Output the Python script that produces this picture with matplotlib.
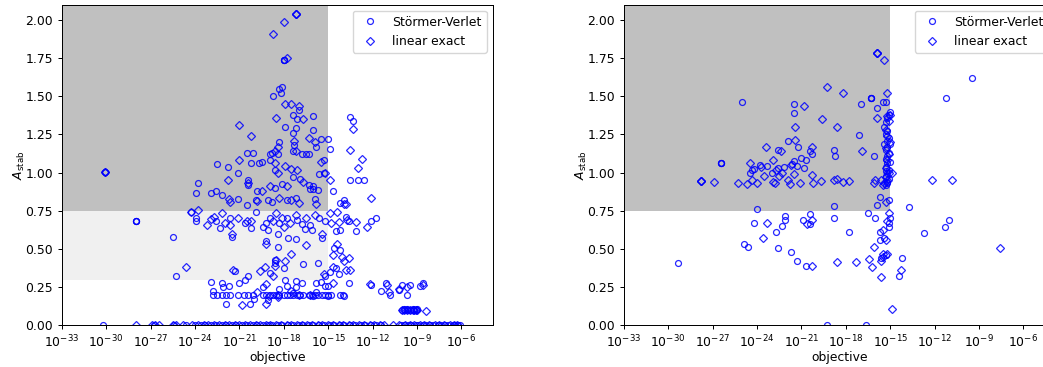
import numpy as np
import matplotlib.pyplot as plt
from matplotlib.ticker import NullLocator

# (log10 objective, A_stab) for each run

# --- left panel ---
left_sv = [
    (-30.1, 1.005), (-30.1, 1.005), (-28.0, 0.685), (-28.0, 0.685), (-28.0, 0.685),
    (-18.0, 1.74), (-18.0, 1.74), (-18.0, 1.74),
    (-18.7, 1.50), (-18.3, 1.55), (-18.1, 1.56), (-18.2, 1.52), (-17.0, 1.41), (-17.4, 1.38),
    (-17.1, 1.35), (-16.0, 1.37), (-17.9, 1.30), (-17.2, 1.29), (-16.0, 1.28), (-17.4, 1.26),
    (-15.5, 1.22), (-15.0, 1.22), (-18.3, 1.20), (-17.3, 1.18), (-17.4, 1.14), (-16.8, 1.125),
    (-16.5, 1.125), (-16.3, 1.125), (-15.8, 1.17), (-14.9, 1.155), (-18.8, 1.13), (-18.9, 1.12),
    (-18.4, 1.12), (-20.5, 1.13), (-20.1, 1.13), (-20.2, 1.065), (-19.7, 1.06), (-19.5, 1.07),
    (-18.9, 1.08), (-15.3, 1.085), (-22.5, 1.055), (-21.8, 1.04), (-21.1, 1.00), (-18.6, 1.015),
    (-15.6, 0.99), (-15.3, 0.995), (-17.4, 0.97), (-23.8, 0.93), (-20.4, 0.95), (-20.4, 0.92),
    (-18.1, 0.925), (-16.9, 0.96), (-16.3, 0.92), (-16.0, 0.915), (-16.0, 0.89), (-16.2, 0.89),
    (-15.7, 0.885), (-19.8, 0.88), (-18.6, 0.90), (-14.7, 0.88), (-23.9, 0.865), (-22.9, 0.865),
    (-22.6, 0.88), (-22.2, 0.855), (-21.1, 0.825), (-20.5, 0.79), (-19.9, 0.82), (-19.1, 0.82),
    (-18.8, 0.81), (-17.8, 0.82), (-17.2, 0.835), (-15.9, 0.83), (-14.2, 0.80), (-13.9, 0.82),
    (-13.5, 0.95), (-13.0, 0.955), (-12.6, 0.955), (-13.5, 1.365), (-13.3, 1.335),
    (-24.3, 0.74), (-23.9, 0.705), (-23.9, 0.685), (-22.6, 0.68), (-22.3, 0.635), (-21.6, 0.70),
    (-21.5, 0.58), (-20.6, 0.67), (-20.2, 0.635), (-19.9, 0.74), (-19.4, 0.645), (-19.2, 0.67),
    (-19.1, 0.625), (-18.9, 0.70), (-18.4, 0.60), (-18.3, 0.67), (-17.8, 0.70), (-17.7, 0.575),
    (-17.2, 0.565), (-17.1, 0.69), (-16.8, 0.665), (-16.6, 0.63), (-16.2, 0.655), (-16.1, 0.625),
    (-15.6, 0.70), (-15.4, 0.575), (-15.2, 0.68), (-14.5, 0.62), (-14.2, 0.625), (-13.8, 0.71),
    (-13.6, 0.68), (-13.1, 0.62), (-12.1, 0.685), (-11.8, 0.705), (-25.5, 0.58),
    (-19.2, 0.55), (-18.4, 0.51), (-18.6, 0.405), (-18.6, 0.425), (-18.0, 0.375), (-16.7, 0.40),
    (-15.7, 0.41), (-18.9, 0.34), (-21.3, 0.355), (-25.3, 0.325), (-14.6, 0.505), (-14.2, 0.495),
    (-14.5, 0.375), (-14.3, 0.335), (-15.2, 0.32), (-14.9, 0.35), (-13.6, 0.275), (-15.0, 0.255),
    (-15.5, 0.285), (-15.8, 0.275), (-17.9, 0.295), (-17.2, 0.29), (-16.8, 0.28),
    (-22.8, 0.20), (-22.5, 0.20), (-22.2, 0.20), (-21.9, 0.20), (-21.6, 0.20), (-21.1, 0.20),
    (-20.7, 0.20), (-20.4, 0.20), (-20.1, 0.20), (-19.4, 0.20), (-19.2, 0.20), (-18.9, 0.20),
    (-18.7, 0.20), (-18.5, 0.20), (-18.3, 0.20), (-18.0, 0.20), (-17.8, 0.20), (-17.6, 0.20),
    (-17.4, 0.20), (-17.1, 0.20), (-16.9, 0.20), (-16.7, 0.20), (-16.3, 0.20), (-16.1, 0.20),
    (-15.9, 0.20), (-15.7, 0.20), (-15.4, 0.20), (-15.2, 0.20), (-15.0, 0.20), (-14.8, 0.20),
    (-14.2, 0.20), (-14.0, 0.20),
    (-22.9, 0.285), (-22.8, 0.225), (-22.2, 0.275), (-22.1, 0.25), (-21.7, 0.26), (-21.9, 0.14),
    (-20.3, 0.14), (-20.6, 0.295), (-20.4, 0.32), (-21.0, 0.275), (-20.0, 0.17), (-19.4, 0.25),
    (-19.1, 0.165), (-18.3, 0.24), (-17.8, 0.26), (-17.4, 0.21), (-17.2, 0.25), (-16.0, 0.19),
    (-15.8, 0.215), (-15.2, 0.255), (-15.0, 0.19), (-13.9, 0.19), (-12.1, 0.265), (-11.4, 0.225),
    (-11.1, 0.275), (-10.8, 0.20), (-10.2, 0.23), (-10.0, 0.265), (-9.5, 0.265), (-9.7, 0.20),
    (-8.8, 0.255), (-8.6, 0.28),
    (-10.0, 0.10), (-9.9, 0.105), (-9.8, 0.10), (-9.7, 0.105), (-9.6, 0.10), (-9.4, 0.10),
    (-9.3, 0.105), (-9.2, 0.10), (-9.1, 0.10), (-9.0, 0.105),
]
left_sv_zero = [
    -30.2, -26.8, -25.4, -24.6, -24.0, -23.6, -23.3, -22.9, -22.6, -22.2, -21.9, -21.5, -21.2,
    -20.8, -20.5, -20.1, -19.8, -19.4, -19.1, -18.8, -18.4, -18.1, -17.7, -17.4, -17.0, -16.7,
    -16.3, -16.0, -15.6, -15.3, -14.9, -14.6, -14.2, -13.9, -13.5, -13.2, -12.8, -12.5, -12.1,
    -11.8, -11.4, -10.1, -9.9, -9.6, -9.4, -9.1, -8.9, -8.6, -8.4, -8.1, -7.9, -7.6, -7.4,
    -7.1, -6.9, -6.6, -6.4, -6.2, -6.1,
]
left_le = [
    (-30.1, 1.005), (-30.1, 1.005), (-17.2, 2.04), (-17.2, 2.04), (-17.2, 2.04),
    (-18.7, 1.91), (-18.0, 1.985), (-17.8, 1.75), (-17.9, 1.45), (-17.5, 1.45), (-17.0, 1.435),
    (-16.7, 1.35), (-18.5, 1.355), (-21.0, 1.31), (-20.2, 1.24), (-17.3, 1.21), (-16.3, 1.23),
    (-15.9, 1.20), (-17.2, 1.14), (-18.4, 1.17), (-18.6, 1.14), (-21.0, 1.08), (-18.6, 1.06),
    (-17.9, 1.045), (-15.5, 1.07), (-18.4, 1.00), (-17.5, 1.025), (-17.1, 1.02), (-15.2, 1.00),
    (-14.9, 0.95), (-21.8, 0.95), (-20.4, 0.935), (-17.8, 0.91), (-16.7, 0.94), (-19.5, 0.88),
    (-18.9, 0.91), (-21.7, 0.83), (-21.6, 0.81), (-19.8, 0.815), (-18.3, 0.835), (-17.5, 0.82),
    (-17.0, 0.80), (-15.8, 0.795), (-13.8, 0.795), (-12.1, 0.835), (-13.5, 1.15), (-12.7, 1.09),
    (-13.0, 1.03), (-13.3, 1.285),
    (-24.3, 0.74), (-23.8, 0.755), (-23.2, 0.66), (-22.9, 0.695), (-22.7, 0.71), (-22.2, 0.735),
    (-22.0, 0.67), (-21.6, 0.655), (-21.5, 0.60), (-21.1, 0.70), (-20.5, 0.68), (-20.2, 0.685),
    (-18.7, 0.68), (-18.5, 0.735), (-18.1, 0.70), (-18.0, 0.645), (-17.6, 0.67), (-17.2, 0.725),
    (-16.5, 0.70), (-15.9, 0.725), (-15.4, 0.60), (-14.9, 0.735), (-14.8, 0.67), (-14.4, 0.745),
    (-14.3, 0.675), (-13.9, 0.795), (-13.7, 0.69), (-13.1, 0.675), (-12.4, 0.645),
    (-19.2, 0.535), (-16.5, 0.525), (-17.5, 0.465), (-17.9, 0.42), (-18.5, 0.43), (-18.6, 0.39),
    (-18.7, 0.32), (-19.6, 0.355), (-19.3, 0.38), (-21.4, 0.36), (-24.6, 0.385), (-14.4, 0.535),
    (-14.7, 0.46), (-14.1, 0.45), (-13.6, 0.44), (-13.9, 0.42), (-14.7, 0.385), (-13.8, 0.36),
    (-13.5, 0.36), (-15.3, 0.335), (-14.7, 0.275),
    (-20.8, 0.13), (-19.8, 0.22), (-19.2, 0.27), (-19.2, 0.14), (-19.0, 0.195), (-18.4, 0.185),
    (-17.5, 0.225), (-17.0, 0.20), (-16.2, 0.20), (-18.4, 0.20), (-12.2, 0.27), (-11.0, 0.265),
    (-10.9, 0.215), (-10.2, 0.235), (-9.7, 0.25), (-8.6, 0.265),
    (-10.0, 0.10), (-9.9, 0.10), (-9.7, 0.10), (-9.5, 0.10), (-9.3, 0.10), (-9.2, 0.10),
    (-9.1, 0.10), (-9.0, 0.10), (-8.4, 0.095),
]
left_le_zero = [
    -28.0, -26.9, -26.7, -26.4, -25.5, -25.3, -24.8, -24.2, -23.8, -23.4, -23.1, -22.7, -22.4,
    -22.0, -21.7, -21.3, -21.0, -20.6, -20.3, -19.9, -19.6, -19.2, -18.9, -18.5, -18.2, -17.8,
    -17.5, -17.1, -16.8, -16.4, -16.1, -15.7, -15.4, -15.0, -14.7, -14.3, -14.0, -13.6, -13.3,
    -12.9, -12.6, -12.2, -11.9, -11.5, -11.2, -10.6, -10.2, -9.8, -9.5, -9.2, -8.8, -8.5,
    -8.2, -7.8, -7.5, -7.2, -6.8, -6.5, -6.3,
]

# --- right panel ---
right_sv = [
    (-26.4, 1.06), (-26.4, 1.06), (-26.4, 1.06), (-25.0, 1.464), (-24.5, 0.995), (-24.3, 1.02),
    (-24.2, 1.025), (-23.8, 1.05), (-23.3, 1.045), (-23.0, 1.00), (-22.6, 1.03), (-22.6, 1.145),
    (-22.2, 1.04), (-21.9, 1.21), (-21.6, 1.055), (-21.5, 1.075), (-21.5, 1.45), (-21.5, 1.39),
    (-21.3, 1.045), (-21.2, 1.165), (-21.0, 1.095), (-20.8, 1.03), (-20.7, 1.085), (-20.4, 1.14),
    (-20.3, 1.12), (-18.8, 1.15), (-18.7, 1.11), (-17.1, 1.245), (-17.0, 1.45),
    (-16.3, 1.49), (-16.3, 1.49), (-16.3, 1.49), (-15.9, 1.425), (-16.1, 1.11), (-15.5, 1.46),
    (-15.3, 1.46), (-15.7, 0.84), (-15.9, 0.785), (-15.1, 0.82),
    (-15.3, 0.92), (-15.2, 0.94), (-15.1, 0.96), (-15.3, 0.98), (-15.2, 1.00), (-15.1, 1.02),
    (-15.3, 1.04), (-15.2, 1.06), (-15.0, 1.07), (-15.3, 1.09), (-15.2, 1.11), (-15.1, 1.13),
    (-15.3, 1.15), (-15.2, 1.17), (-15.0, 1.19), (-15.4, 1.19), (-15.2, 1.21), (-15.1, 1.23),
    (-15.3, 1.25), (-15.2, 1.27), (-15.4, 1.30), (-15.3, 1.33), (-15.2, 1.36), (-15.1, 1.38),
    (-15.0, 1.40), (-15.2, 0.93), (-15.3, 1.01),
    (-29.3, 0.405), (-24.9, 0.53), (-24.6, 0.51), (-24.2, 0.667), (-24.0, 0.765), (-22.7, 0.612),
    (-22.6, 0.505), (-22.3, 0.65), (-22.1, 0.718), (-22.1, 0.69), (-21.7, 0.48), (-21.3, 0.42),
    (-20.9, 0.693), (-20.7, 0.39), (-20.4, 0.726), (-20.4, 0.663), (-19.3, 0.0), (-18.8, 0.78),
    (-18.8, 0.705), (-17.8, 0.612), (-16.6, 0.0), (-16.5, 0.733), (-16.0, 0.705), (-15.7, 0.61),
    (-15.7, 0.56), (-15.6, 0.44), (-15.4, 0.57), (-15.3, 0.46), (-15.1, 0.645), (-15.0, 0.70),
    (-15.1, 0.667), (-14.4, 0.322), (-14.2, 0.443), (-13.7, 0.776), (-12.7, 0.602),
    (-11.3, 0.641), (-11.2, 1.492), (-11.0, 0.69), (-9.5, 1.623),
]
right_le = [
    (-27.8, 0.947), (-27.8, 0.947), (-27.8, 0.947), (-26.9, 0.94), (-25.3, 0.93), (-24.7, 0.925),
    (-24.5, 1.06), (-24.3, 0.95), (-24.0, 0.93), (-23.7, 1.035), (-23.4, 1.17), (-23.5, 0.98),
    (-22.9, 1.085), (-22.9, 0.94), (-22.8, 0.93), (-22.7, 1.015), (-22.5, 0.975), (-22.4, 1.14),
    (-22.3, 0.995), (-21.9, 0.95), (-21.8, 0.925), (-21.7, 1.05), (-21.5, 0.99), (-21.4, 1.30),
    (-21.4, 1.215), (-21.1, 0.935), (-20.8, 1.435), (-20.3, 1.17), (-20.3, 0.985), (-20.2, 0.93),
    (-19.7, 0.945), (-19.3, 1.56), (-19.6, 1.35), (-18.8, 0.955), (-18.6, 1.30), (-18.6, 0.96),
    (-18.2, 1.52), (-18.2, 0.94), (-17.8, 0.945), (-16.9, 1.14), (-15.9, 1.355), (-16.1, 0.93),
    (-16.0, 0.955), (-15.9, 1.785), (-15.9, 1.785), (-15.9, 1.785), (-15.4, 1.735), (-15.2, 1.52),
    (-14.9, 1.00), (-15.3, 0.81),
    (-15.4, 0.93), (-15.2, 0.95), (-15.3, 0.97), (-15.1, 1.00), (-15.3, 1.03), (-15.2, 1.08),
    (-15.1, 1.12), (-15.3, 1.16), (-15.0, 1.20), (-15.2, 1.24), (-15.3, 1.28), (-15.1, 1.34),
    (-15.2, 1.37), (-15.0, 1.38), (-15.6, 0.95), (-15.5, 0.92),
    (-23.6, 0.575), (-23.3, 0.672), (-20.6, 0.663), (-20.3, 0.39), (-20.3, 0.69), (-18.6, 0.415),
    (-17.3, 0.412), (-16.4, 0.432), (-16.2, 0.384), (-16.1, 0.51), (-15.6, 0.318), (-15.6, 0.42),
    (-15.5, 0.47), (-15.5, 0.45), (-15.3, 0.56), (-15.2, 0.47), (-15.5, 0.625), (-15.2, 0.68),
    (-15.1, 0.733), (-14.9, 0.11), (-14.3, 0.36), (-12.2, 0.955), (-10.8, 0.95), (-7.6, 0.504),
]

xticks = [1e-33, 1e-30, 1e-27, 1e-24, 1e-21, 1e-18, 1e-15, 1e-12, 1e-9, 1e-6]

# everything drawn a little smaller than the defaults
s = 0.89
plt.rcParams.update({
    'font.size': 10 * s,
    'axes.linewidth': 0.8 * s,
    'xtick.major.size': 3.5 * s, 'ytick.major.size': 3.5 * s,
    'xtick.major.width': 0.8 * s, 'ytick.major.width': 0.8 * s,
    'xtick.major.pad': 3.0 * s, 'ytick.major.pad': 3.5 * s,
    'legend.framealpha': 0.8,
})


def split(points):
    e, a = zip(*points)
    return 10.0 ** np.array(e), np.array(a)


def panel(ax, sv, le, sv_zero=(), le_zero=(), light_band=False):
    # regions of interest
    ax.fill_between([1e-33, 1e-15], 0.75, 2.1, color='silver', lw=0, zorder=0)
    if light_band:
        ax.fill_between([1e-33, 1e-15], 0.3, 0.75, color='#f0f0f0', lw=0, zorder=0)

    xs, ys = split(sv)
    xs = np.concatenate([xs, 10.0 ** np.array(sv_zero)])
    ys = np.concatenate([ys, np.zeros(len(sv_zero))])
    xl, yl = split(le)
    xl = np.concatenate([xl, 10.0 ** np.array(le_zero)])
    yl = np.concatenate([yl, np.zeros(len(le_zero))])

    ax.plot(xs, ys, 'o', mec='b', mfc='none', ms=6 * s * 0.8, mew=1.0 * s, alpha=0.85,
            label='Störmer-Verlet')
    ax.plot(xl, yl, 'D', mec='b', mfc='none', ms=6 * s * 0.8, mew=1.0 * s, alpha=0.85,
            label='linear exact')

    ax.set_xscale('log')
    ax.set_xlim(1e-33, 1.3e-4)
    ax.set_ylim(0, 2.1)
    ax.set_xticks(xticks)
    ax.xaxis.set_minor_locator(NullLocator())
    ax.set_yticks(np.arange(0, 2.01, 0.25))
    ax.set_xlabel('objective', labelpad=1.0)
    ax.set_ylabel(r'$A_\mathrm{stab}$', labelpad=-1.0)
    ax.legend(loc='upper right')


fig = plt.figure(figsize=(10.43, 3.67), dpi=100)
ax1 = fig.add_axes([0.0592, 0.1136, 0.4132, 0.8736])
ax2 = fig.add_axes([0.598, 0.1136, 0.4132, 0.8736])

panel(ax1, left_sv, left_le, left_sv_zero, left_le_zero, light_band=True)
panel(ax2, right_sv, right_le)

fig.savefig('out.png', dpi=100)
